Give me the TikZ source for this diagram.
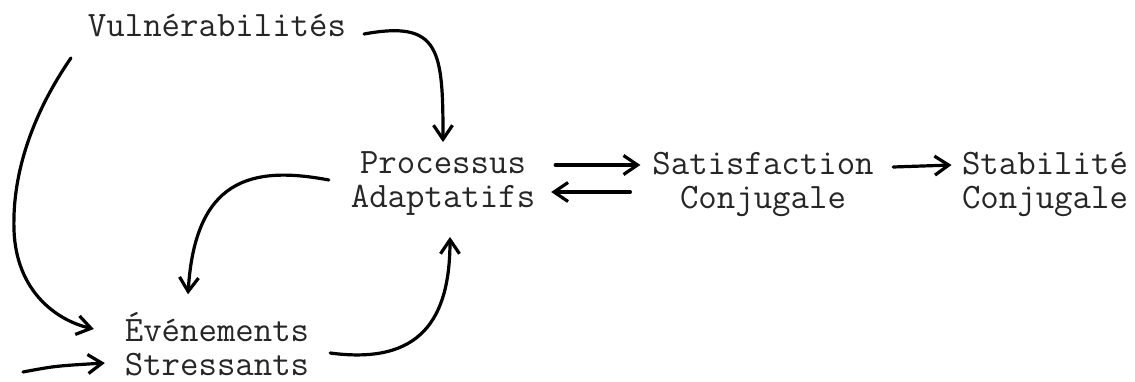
\documentclass[tikz,border=0pt]{standalone}
\usetikzlibrary{arrows.meta,calc}
\begin{document}
\begin{tikzpicture}[x=1pt,y=-1pt,
  lbl/.style={font=\ttfamily\fontsize{35.8}{34}\selectfont, inner sep=0pt, outer sep=0pt, align=center, text=black!85},
  conn/.style={line width=3.2pt, -{Straight Barb[length=14pt,width=19pt]}, line cap=round, line join=round}]
\useasboundingbox (0,0) rectangle (1135,381);
\node[lbl, anchor=base] (vul) at (217,36) {Vulnérabilités};
\node[lbl] (pro) at (443,184) {Processus\\Adaptatifs};
\node[lbl] (sat) at (763,184) {Satisfaction\\Conjugale};
\node[lbl] (sta) at (1045,184) {Stabilité\\Conjugale};
\node[lbl] (eve) at (217,344) {Événements\\Stressants};
\coordinate (src) at (23,372);
\draw[conn] ($(vul.base east)+(18,-2)$) .. controls (440,20) and (443,50) .. ($(pro.north)+(0,-10)$);
\draw[conn] ($(vul.base west)+(-17,22)$) .. controls (35,110) and (12,170) .. (14,230) .. controls (16,290) and (55,320) .. ($(eve.west)+(-31,-15)$);
\draw[conn] (src) .. controls (55,366) .. ($(eve.west)+(-20,19)$);
\draw[conn] ($(eve.east)+(21,9)$) .. controls (420,365) and (450,320) .. ($(pro.south)+(7,21)$);
\draw[conn] ($(pro.west)+(-22,-4)$) .. controls (250,165) and (195,180) .. ($(eve.north)+(-29,-18)$);
\draw[conn] ($(pro.east)+(20,-19)$) -- ($(sat.west)+(-12,-19)$);
\draw[conn] ($(sat.west)+(-22,8)$) -- ($(pro.east)+(16,8)$);
\draw[conn] ($(sat.east)+(19.5,-17)$) -- ($(sta.west)+(-10.5,-19)$);
\end{tikzpicture}
\end{document}
